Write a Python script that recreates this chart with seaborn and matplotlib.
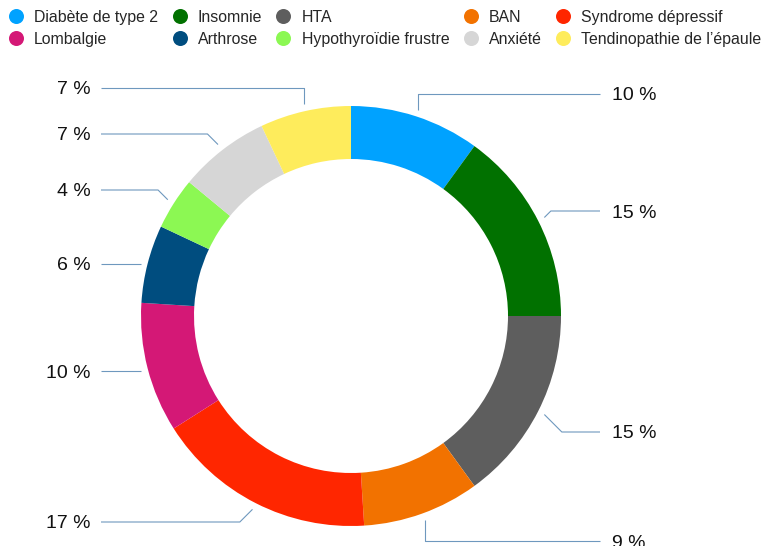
import numpy as np
import matplotlib
matplotlib.use("Agg")
import matplotlib.pyplot as plt
from matplotlib.lines import Line2D
import seaborn as sns

# ----------------------------------------------
# DATA
# ----------------------------------------------
LABELS = ["Diabète de type 2", "Insomnie", "HTA", "BAN", "Syndrome dépressif",
          "Lombalgie", "Arthrose", "Hypothyroïdie frustre", "Anxiété",
          "Tendinopathie de l’épaule"]
VALUES = [10, 15, 15, 9, 17, 10, 6, 4, 7, 7]
COLORS = ["#00A2FF", "#017100", "#5E5E5E", "#F27200", "#FF2600",
          "#D41876", "#004D7F", "#8CF853", "#D6D6D6", "#FEEC5C"]

# ----------------------------------------------
# LAYOUT  (pixels, image coords: y grows downward)
# ----------------------------------------------
W, H = 767, 546
CX, CY = 351, 316
R_OUT, RING = 210, 53
LABEL_Y = [94, 211, 432, 541, 522, 371, 264, 190, 134, 88]
LINE_COLOR = "#6E98BE"

sns.set_theme(style="white")
plt.rcParams["font.family"] = ["Liberation Sans", "DejaVu Sans"]

fig = plt.figure(figsize=(W / 100, H / 100), dpi=100)
ax = fig.add_axes([0, 0, 1, 1])

wedges, _ = ax.pie(VALUES, colors=COLORS, startangle=90, counterclock=False,
                   radius=R_OUT, center=(CX, H - CY),
                   wedgeprops=dict(width=RING, linewidth=0))
ax.set_xlim(0, W)
ax.set_ylim(0, H)
ax.axis("off")

# leader lines + percentage labels
for w, v, ly in zip(wedges, VALUES, LABEL_Y):
    mid = np.deg2rad((w.theta1 + w.theta2) / 2)
    ax_x = CX + 217 * np.cos(mid)
    ax_y = CY - 217 * np.sin(mid)
    right = ax_x > CX
    sgn = 1 if right else -1
    dy = ly - ax_y
    if abs(np.sin(mid)) > 0.9:
        ex = ax_x
    elif abs(dy) < 4:
        ex = ax_x
        ax_y = ly
    else:
        ex = ax_x + sgn * abs(dy)
    end_x = 600 if right else 101
    xs = [ax_x, ex, end_x]
    ys = [H - ax_y, H - ly, H - ly]
    ax.plot(xs, ys, color=LINE_COLOR, linewidth=0.8, solid_capstyle="butt")
    ty = H - ly - 2
    if right:
        ax.text(612, ty, f"{v} %", ha="left", va="center", fontsize=14, color="#111111")
    else:
        ax.text(91, ty, f"{v} %", ha="right", va="center", fontsize=14, color="#111111")

# legend: two rows, filled column-wise
order = [0, 5, 1, 6, 2, 7, 3, 8, 4, 9]
handles = [Line2D([], [], marker="o", linestyle="", markersize=10.8,
                  markerfacecolor=COLORS[i], markeredgewidth=0) for i in order]
fig.legend(handles, [LABELS[i] for i in order], ncol=5, frameon=False,
           loc="upper left", bbox_to_anchor=(8 / W, 1 - 10 / H),
           borderaxespad=0, borderpad=0, fontsize=11.4, handlelength=1.0,
           handletextpad=0.65, columnspacing=0.85, labelspacing=0.42)

fig.savefig("out.png", dpi=100)
